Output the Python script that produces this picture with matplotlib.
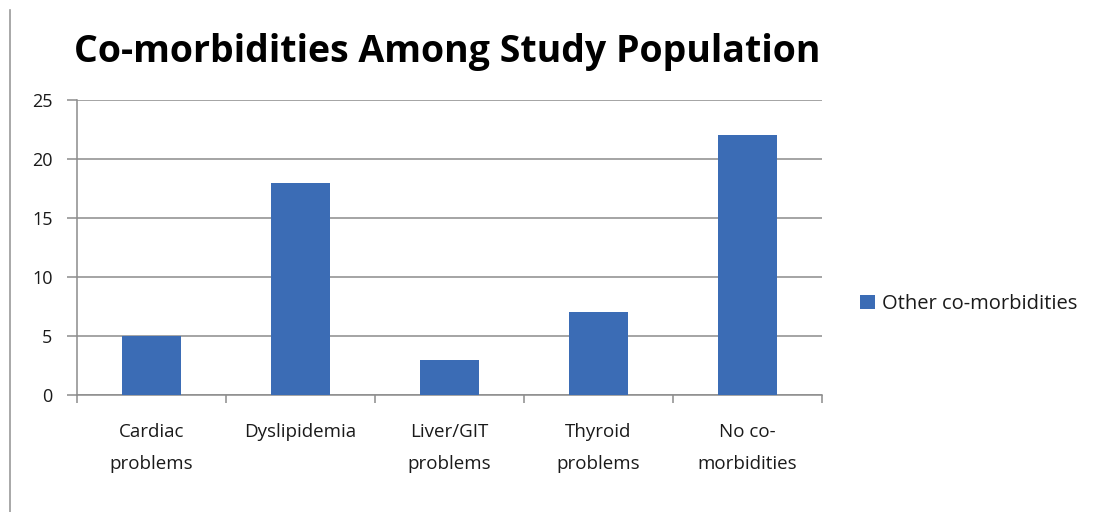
import matplotlib.pyplot as plt
from matplotlib.lines import Line2D

categories = ['Cardiac\nproblems', 'Dyslipidemia', 'Liver/GIT\nproblems',
              'Thyroid\nproblems', 'No co-\nmorbidities']
counts = [5, 18, 3, 7, 22]
series_name = 'Other co-morbidities'

plt.rcParams['font.family'] = ['Open Sans', 'DejaVu Sans']

fig = plt.figure(figsize=(11.05, 5.12), dpi=100)
ax = fig.add_axes([77 / 1105, 117 / 512, 745 / 1105, 295 / 512])

x = range(len(categories))
ax.bar(x, counts, width=0.4, color='#3b6cb5', label=series_name, zorder=3)

ax.set_xlim(-0.5, len(categories) - 0.5)
ax.set_ylim(0, 25)
ax.set_yticks([0, 5, 10, 15, 20, 25])
ax.grid(axis='y', color='#8c8c8c', linewidth=1.1, zorder=0)

# category labels sit between the boundary ticks
ax.set_xticks([i + 0.5 for i in range(-1, len(categories))])
ax.set_xticklabels([])
ax.set_xticks(list(x), minor=True)
ax.set_xticklabels(categories, minor=True, fontsize=13.5, linespacing=1.95,
                   color='#1a1a1a')
ax.tick_params(axis='x', which='minor', length=0, pad=20.5)
ax.tick_params(axis='x', which='major', length=6, color='#8c8c8c', width=1.1)
ax.tick_params(axis='y', length=7.2, color='#8c8c8c', width=1.1, labelsize=13,
               labelcolor='#1a1a1a', pad=10.5)

for s in ['top', 'right']:
    ax.spines[s].set_visible(False)
for s in ['left', 'bottom']:
    ax.spines[s].set_color('#8c8c8c')
    ax.spines[s].set_linewidth(1.1)

fig.text(447 / 1105, 1 - 52 / 512, 'Co-morbidities Among Study Population',
         ha='center', va='center', fontsize=27, fontweight='bold',
         family=['Open Sans', 'DejaVu Sans'])

fig.legend(loc='center left', bbox_to_anchor=(842 / 1105, 1 - 304 / 512),
           frameon=False, fontsize=14.5, handlelength=0.75, handleheight=0.75,
           handletextpad=0.35, labelcolor='#1a1a1a')

# frame edge at the left of the page
fig.add_artist(Line2D([9.5 / 1105, 9.5 / 1105], [0, 1 - 10 / 512],
                      color='#9a9a9a', linewidth=1.2))

fig.savefig('out.png', dpi=100)
